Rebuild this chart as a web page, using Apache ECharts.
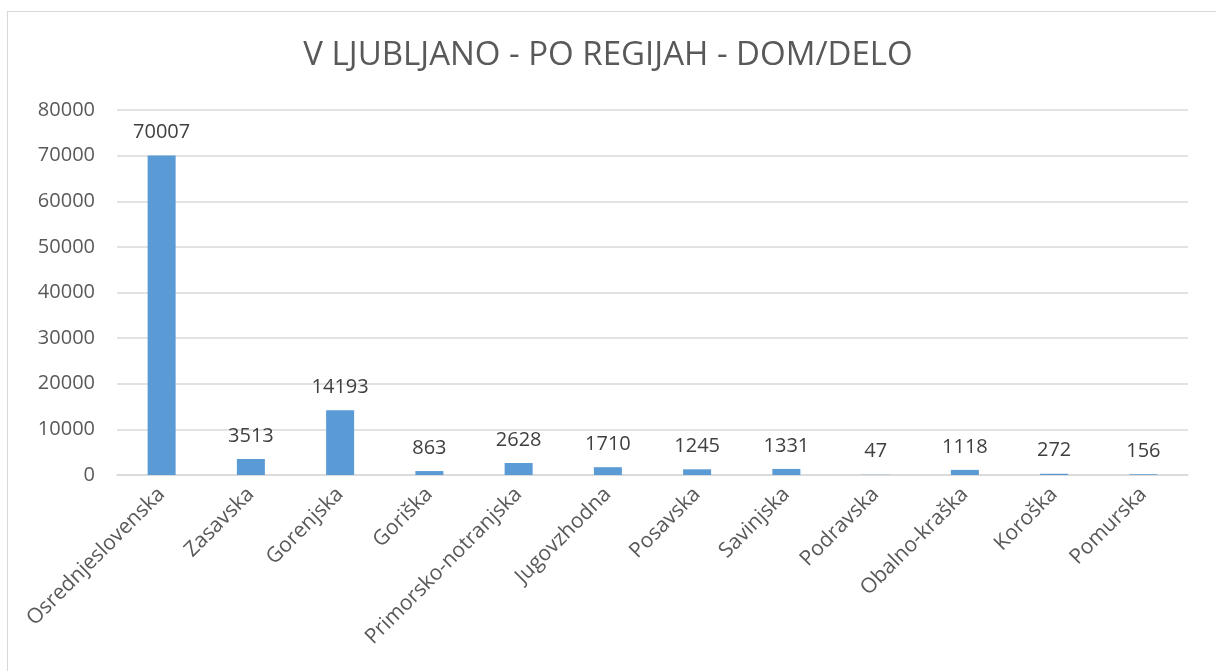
<!DOCTYPE html>
<html>
<head>
<meta charset="utf-8">
<script src="https://cdn.jsdelivr.net/npm/echarts@6/dist/echarts.min.js"></script>
<style>
  html, body { margin: 0; padding: 0; background: #fff; }
  #frame {
    position: absolute;
    left: 7px;
    top: 11px;
    width: 1300px;
    height: 800px;
    border: 1px solid #d9d9d9;
  }
  #chart { position: absolute; left: 0; top: 0; width: 1216px; height: 671px; }
</style>
</head>
<body>
<div id="frame"></div>
<div id="chart"></div>
<script>
// kategorije (regije) in vrednosti
const regije = ['Osrednjeslovenska', 'Zasavska', 'Gorenjska', 'Goriška', 'Primorsko-notranjska',
  'Jugovzhodna', 'Posavska', 'Savinjska', 'Podravska', 'Obalno-kraška', 'Koroška', 'Pomurska']
const vrednosti = [70007, 3513, 14193, 863, 2628, 1710, 1245, 1331, 47, 1118, 272, 156]
const yTicks = [0, 10000, 20000, 30000, 40000, 50000, 60000, 70000, 80000]

const font = '"Open Sans", "Noto Sans", sans-serif'

const myChart = echarts.init(document.getElementById('chart'))
const option = {
  animation: false,
  title: {
    text: 'V LJUBLJANO - PO REGIJAH - DOM/DELO',
    left: 'center',
    top: 34,
    textStyle: {
      fontFamily: font,
      fontSize: 33,
      fontWeight: 'normal',
      color: '#595959'
    }
  },
  grid: {
    left: 117,
    right: 28,
    top: 110,
    bottom: 196
  },
  xAxis: {
    type: 'category',
    data: regije,
    axisTick: { show: false },
    axisLine: { lineStyle: { color: '#d9d9d9', width: 1.5 } },
    axisLabel: {
      rotate: 45,
      interval: 0,
      margin: 16,
      fontFamily: font,
      fontSize: 21,
      color: '#595959'
    }
  },
  yAxis: {
    type: 'value',
    min: yTicks[0],
    max: yTicks[yTicks.length - 1],
    interval: yTicks[1] - yTicks[0],
    axisLine: { show: false },
    axisTick: { show: false },
    splitLine: { lineStyle: { color: '#d9d9d9', width: 1.5 } },
    axisLabel: {
      margin: 22,
      fontFamily: font,
      fontSize: 20,
      color: '#595959',
      formatter: v => String(v)
    }
  },
  series: [
    {
      type: 'bar',
      data: vrednosti,
      barWidth: 28,
      itemStyle: { color: '#5b9bd5' },
      label: {
        show: true,
        position: 'top',
        distance: 13,
        fontFamily: font,
        fontSize: 20,
        color: '#404040'
      }
    }
  ]
}
myChart.setOption(option)
</script>
</body>
</html>
